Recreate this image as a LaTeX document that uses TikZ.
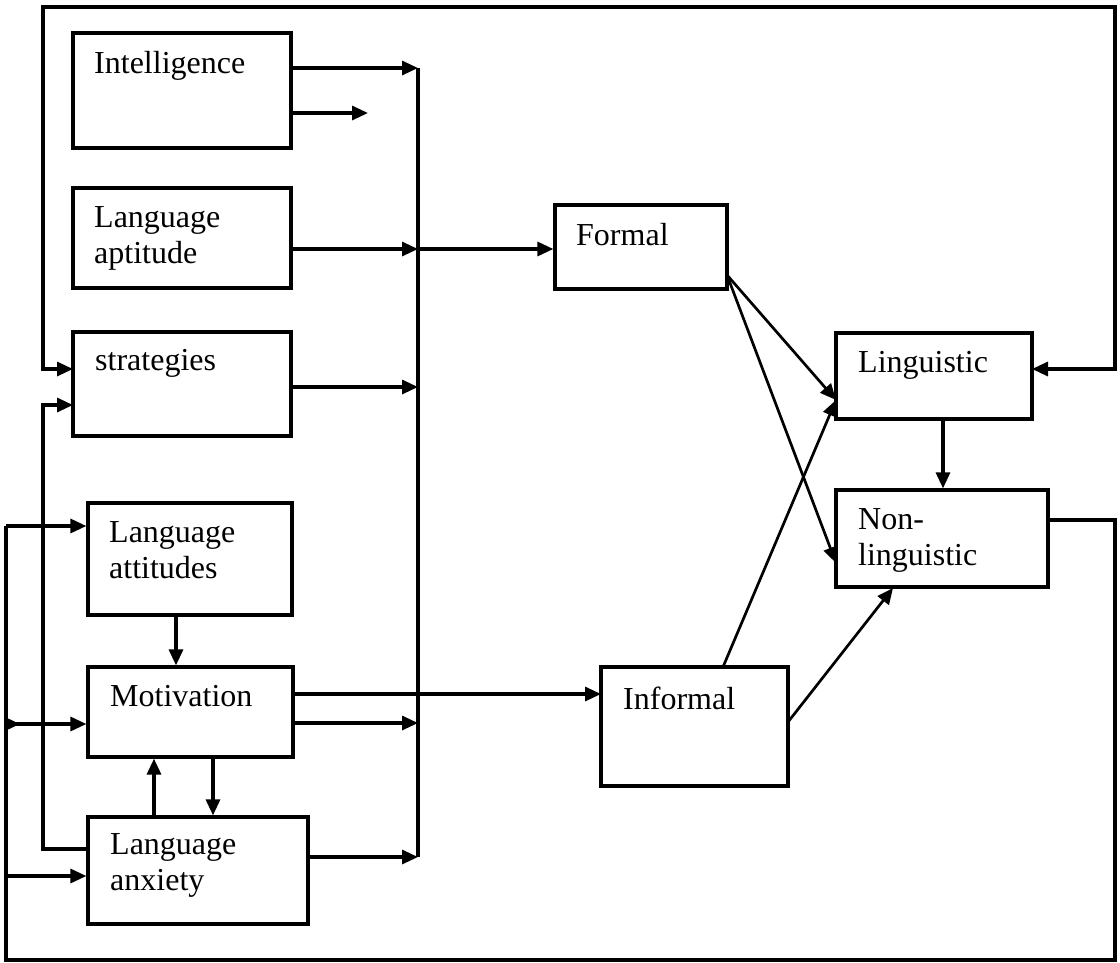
\documentclass[tikz,border=0pt]{standalone}
\usepackage{fontspec}
\setmainfont{Liberation Serif}
\usetikzlibrary{arrows.meta}
\begin{document}
\begin{tikzpicture}[x=1pt,y=-1pt,
  box/.style={draw,line width=3.2pt,rectangle,inner sep=0pt},
  txt/.style={anchor=north west,inner sep=0pt,align=left,
              font=\fontsize{32}{36}\selectfont},
  conn/.style={line width=3.2pt},
  arr/.style={line width=3.2pt,-{Triangle[length=16pt,width=14pt]}},
  thin/.style={line width=2.7pt,-{Triangle[length=16pt,width=14pt]}},
  both/.style={line width=3.2pt,{Triangle[length=16pt,width=14pt]}-{Triangle[length=16pt,width=14pt]}}]
\useasboundingbox (0,0) rectangle (1120,962);

% boxes of the left column
\node[box,minimum width=218pt,minimum height=115pt] (intel) at (182,90.5) {};
\node[box,minimum width=218pt,minimum height=100pt] (apt)   at (182,238) {};
\node[box,minimum width=218pt,minimum height=104pt] (strat) at (182,384) {};
\node[box,minimum width=204pt,minimum height=112pt] (att)   at (190,559) {};
\node[box,minimum width=205pt,minimum height=90pt]  (mot)   at (190.5,712) {};
\node[box,minimum width=220pt,minimum height=107pt] (anx)   at (198,870.5) {};
% learning contexts
\node[box,minimum width=172pt,minimum height=84pt]  (formal)   at (641,247) {};
\node[box,minimum width=187pt,minimum height=119pt] (informal) at (694.5,726.5) {};
% outcomes
\node[box,minimum width=196pt,minimum height=86pt]  (ling)    at (934,376) {};
\node[box,minimum width=212pt,minimum height=97pt]  (nonling) at (942,538.5) {};

% box labels
\node[txt] (intel-t)    at (94,51)  {Intelligence};
\node[txt] (apt-t)      at (94,206) {Language\\aptitude};
\node[txt] (strat-t)    at (95,349) {strategies};
\node[txt] (att-t)      at (109,521) {Language\\attitudes};
\node[txt] (mot-t)      at (110,685) {Motivation};
\node[txt] (anx-t)      at (110,833) {Language\\anxiety};
\node[txt] (formal-t)   at (576,223) {Formal};
\node[txt] (informal-t) at (623,687) {Informal};
\node[txt] (ling-t)     at (858,351) {Linguistic};
\node[txt] (nonling-t)  at (858,508) {Non-\\linguistic};

% collecting bus
\coordinate (busI) at (418,68);
\coordinate (busA) at (418,249);
\coordinate (busS) at (418,387);
\coordinate (busM) at (418,723);
\coordinate (busX) at (418,857);
\draw[conn] (busI) -- (busX);

\coordinate (ifree) at (368,113);
\draw[arr] (intel.east |- busI) -- (busI);
\draw[arr] (intel.east |- ifree) -- (ifree);
\draw[arr] (apt.east |- busA) -- (busA);
\draw[arr] (busA) -- (formal.west |- busA);
\draw[arr] (strat.east |- busS) -- (busS);
\draw[arr] (mot.east |- busM) -- (busM);
\draw[arr] (anx.east |- busX) -- (busX);

% motivation straight to the informal context
\coordinate (infIn) at (601,694);
\draw[arr] (mot.east |- infIn) -- (infIn);

% links among the affective factors
\draw[arr] (att.south -| 176,0) -- (mot.north -| 176,0);
\draw[arr] (anx.north -| 154,0) -- (mot.south -| 154,0);
\draw[arr] (mot.south -| 213,0) -- (anx.north -| 213,0);

% contexts to outcomes
\coordinate (fOut) at (727,275);
\coordinate (lIn)  at (836,400);
\coordinate (nIn)  at (836,563);
\coordinate (iTop) at (723,667);
\coordinate (iR)   at (788,722);
\coordinate (nBot) at (893,588);
\draw[thin] (fOut) -- (lIn);
\draw[thin] (fOut) -- (nIn);
\draw[thin] (iTop) -- (lIn);
\draw[thin] (iR) -- (nBot);
\draw[arr] (ling.south -| 943,0) -- (nonling.north -| 943,0);

% feedback from linguistic outcome to strategies
\coordinate (tl) at (43,7);
\coordinate (tr) at (1115,7);
\coordinate (sIn) at (73,369);
\coordinate (lOut) at (1032,369);
\draw[both] (sIn) -| (tl) -- (tr) |- (lOut);

% anxiety to strategies
\coordinate (aL) at (88,849);
\coordinate (sIn2) at (73,405);
\draw[arr] (aL) -| (43,405) -- (sIn2);

% feedback from non-linguistic outcome to the affective factors
\coordinate (nOut) at (1048,520);
\coordinate (br) at (1115,960);
\coordinate (bl) at (6,960);
\coordinate (jA) at (6,526);
\coordinate (jM) at (6,724);
\coordinate (jX) at (6,876);
\draw[conn] (nOut) -| (br) -- (bl) -- (jA);
\draw[arr] (jA) -- (att.west |- jA);
\draw[arr] (jM) -- (mot.west |- jM);
\draw[arr] (jM) -- (20,724);
\draw[arr] (jX) -- (anx.west |- jX);
\end{tikzpicture}
\end{document}
